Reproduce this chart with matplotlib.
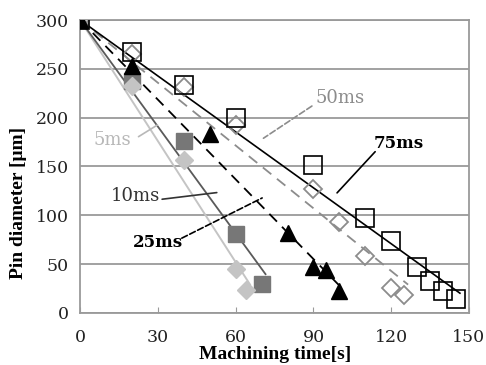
import numpy as np
import matplotlib
matplotlib.use("Agg")
import matplotlib.pyplot as plt

# Pin diameter [um] vs machining time [s] for different pulse durations
t_5ms = [0, 20, 40, 60, 64]
d_5ms = [300, 232, 157, 45, 23]

t_10ms = [0, 20, 40, 60, 70]
d_10ms = [300, 238, 176, 81, 30]

t_25ms = [0, 20, 50, 80, 90, 95, 100]
d_25ms = [300, 253, 183, 82, 47, 44, 22]

t_50ms = [0, 20, 40, 60, 90, 100, 110, 120, 125]
d_50ms = [300, 265, 231, 192, 127, 93, 58, 25, 18]

t_75ms = [0, 20, 40, 60, 90, 110, 120, 130, 135, 140, 145]
d_75ms = [300, 267, 233, 200, 151, 97, 74, 47, 33, 22, 14]

x_ticks = [0, 30, 60, 90, 120, 150]
y_ticks = [0, 50, 100, 150, 200, 250, 300]

SERIF = "DejaVu Serif"
LAB_FONT = "Liberation Serif"


def trend(t, d, d0=300):
    # linear trend line forced through the starting diameter
    t = np.asarray(t, float)
    d = np.asarray(d, float)
    slope = np.sum(t * (d - d0)) / np.sum(t * t)
    xs = np.array([0, t.max() + 1.5])
    return xs, d0 + slope * xs


def label(ax, text, pos, start, end, color, bold=False, size=13, ls="-"):
    ax.text(*pos, text, color=color, fontfamily=SERIF, fontsize=size,
            fontweight="bold" if bold else "normal", ha="center", va="center", zorder=6)
    ax.annotate("", xy=end, xytext=start,
                arrowprops=dict(arrowstyle="-", color=color, lw=1.2, ls=ls, shrinkA=0, shrinkB=0))


fig = plt.figure(figsize=(4.86, 3.65), dpi=100)
ax = fig.add_axes([0.165, 0.143, 0.800, 0.802])

for v in y_ticks:
    ax.axhline(v, color="#9a9a9a", lw=1.3, zorder=0)

# trend lines
xs, ys = trend(t_5ms, d_5ms)
ax.plot(xs, ys, color="#c4c4c4", lw=1.4, zorder=1)
xs, ys = trend(t_10ms, d_10ms)
ax.plot(xs, ys, color="#5a5a5a", lw=1.3, zorder=1)
xs, ys = trend(t_25ms, d_25ms)
ax.plot(xs, ys, color="black", lw=1.3, ls=(0, (6, 4)), zorder=1)
xs, ys = trend(t_50ms, d_50ms)
ax.plot(xs, ys, color="#8c8c8c", lw=1.3, ls=(0, (6, 4)), zorder=1)
xs, ys = trend(t_75ms, d_75ms)
ax.plot(xs, ys, color="black", lw=1.2, zorder=1)

# markers
ax.plot(t_5ms, d_5ms, "D", ms=9, color="#c4c4c4", mec="#c4c4c4", ls="none", zorder=3)
ax.plot(t_10ms, d_10ms, "s", ms=12, color="#777777", mec="#777777", ls="none", zorder=2)
ax.plot(t_25ms, d_25ms, "^", ms=11, color="black", ls="none", zorder=4)
ax.plot(t_50ms, d_50ms, "D", ms=9, mfc="none", mec="#8c8c8c", mew=1.3, ls="none", zorder=3)
ax.plot(t_75ms, d_75ms, "s", ms=13, mfc="none", mec="black", mew=1.2, ls="none", zorder=5)

# series labels with leader lines
label(ax, "5ms", (12.3, 177), (22.5, 180.5), (29.8, 192.5), "#b8b8b8")
label(ax, "10ms", (21.2, 120), (31.6, 116.4), (52.7, 123.2), "#333333")
label(ax, "25ms", (30.1, 72), (39.2, 76.5), (70.2, 117.7), "black", bold=True, size=12, ls="--")
label(ax, "50ms", (100.3, 220), (89.4, 211.9), (70.7, 178.9), "#8c8c8c", ls="--")
label(ax, "75ms", (123.0, 174), (113.8, 165.1), (99.1, 122.9), "black", bold=True, size=12)

ax.set_xlim(0, 150)
ax.set_ylim(0, 300)
ax.set_xticks(x_ticks)
ax.set_yticks(y_ticks)
ax.tick_params(axis="x", direction="in", length=4, color="#9a9a9a", pad=12)
ax.tick_params(axis="y", length=0, pad=8)
for lbl in ax.get_xticklabels() + ax.get_yticklabels():
    lbl.set_fontfamily(SERIF)
    lbl.set_fontsize(12.5)
    lbl.set_color("#222222")

for s in ax.spines.values():
    s.set_color("#9a9a9a")
    s.set_linewidth(1.3)

ax.set_xlabel("Machining time[s]", fontfamily=LAB_FONT, fontsize=14, fontweight="bold")
ax.set_ylabel("Pin diameter [μm]", fontfamily=LAB_FONT, fontsize=14, fontweight="bold")
ax.xaxis.set_label_coords(0.501, -0.115)
ax.yaxis.set_label_coords(-0.136, 0.375)

fig.savefig("out.png", dpi=100, facecolor="white")
